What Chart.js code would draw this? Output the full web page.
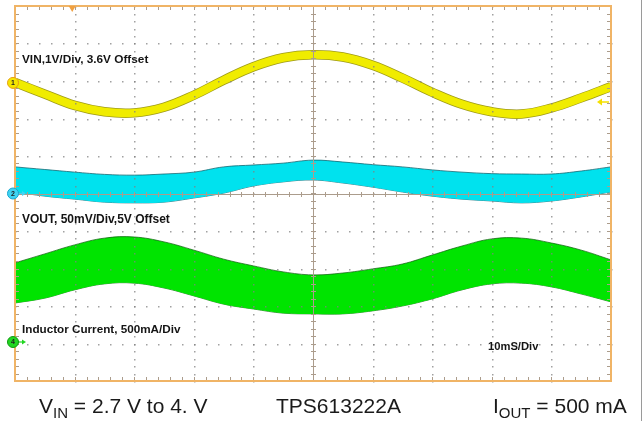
<!DOCTYPE html>
<html>
<head>
<meta charset="utf-8">
<script src="https://cdn.jsdelivr.net/npm/chart.js@4.4.0/dist/chart.umd.min.js"></script>
<style>
    html, body { margin: 0; padding: 0; background: #fff; }
    #wrap { position: relative; width: 644px; height: 421px; overflow: hidden; font-family: Arial, "Liberation Sans", sans-serif; }
    #scope { position: absolute; left: 0; top: 0; }
    .lbl { position: absolute; font-weight: bold; color: #141414; white-space: nowrap; line-height: 1; }
    .cap { position: absolute; top: 395px; font-size: 21px; line-height: 21px; color: #1a1a1a; white-space: nowrap; }
    .cap sub { font-size: 15px; vertical-align: -5px; line-height: 0; }
    #edge { position: absolute; left: 641px; top: 0; width: 1px; height: 421px; background: #9a9a9a; }
</style>
</head>
<body>
<div id="wrap">
    <canvas id="scope" width="644" height="421"></canvas>
    <div class="lbl" style="left:22px; top:54px; font-size:11.8px;">VIN,1V/Div, 3.6V Offset</div>
    <div class="lbl" style="left:22px; top:213px; font-size:12px;">VOUT, 50mV/Div,5V Offset</div>
    <div class="lbl" style="left:22px; top:323px; font-size:11.7px;">Inductor Current, 500mA/Div</div>
    <div class="lbl" style="left:488px; top:341px; font-size:11.2px;">10mS/Div</div>
    <div class="cap" style="left:39px;">V<sub>IN</sub> = 2.7 V to 4. V</div>
    <div class="cap" style="left:276px;">TPS613222A</div>
    <div class="cap" style="left:493px;">I<sub>OUT</sub> = 500 mA</div>
    <div id="edge"></div>
</div>
<script>
// time axis, 10 ms per division
const timeMs = [0, 5, 10, 15, 20, 25, 30, 35, 40, 45, 50, 55, 60, 65, 70, 75, 80, 85, 90, 95, 100];

// screen positions in divisions (0 = bottom edge, 10 = top edge)
const vinDiv = [7.96, 7.65, 7.35, 7.18, 7.15, 7.30, 7.62, 8.02, 8.38, 8.62, 8.70, 8.64, 8.42, 8.08, 7.70, 7.38, 7.18, 7.12, 7.28, 7.55, 7.85];
const voutTop = [5.71, 5.64, 5.57, 5.51, 5.49, 5.52, 5.57, 5.71, 5.76, 5.81, 5.89, 5.84, 5.77, 5.71, 5.63, 5.57, 5.53, 5.52, 5.52, 5.60, 5.71];
const voutBottom = [5.04, 4.93, 4.85, 4.77, 4.75, 4.77, 4.88, 5.01, 5.20, 5.31, 5.36, 5.28, 5.17, 5.04, 4.93, 4.85, 4.80, 4.75, 4.80, 4.91, 5.04];
const ilTop = [3.15, 3.39, 3.63, 3.81, 3.84, 3.71, 3.49, 3.25, 3.07, 2.91, 2.83, 2.88, 2.99, 3.12, 3.36, 3.60, 3.79, 3.81, 3.68, 3.49, 3.23];
const ilBottom = [2.08, 2.21, 2.43, 2.59, 2.61, 2.48, 2.27, 2.05, 1.92, 1.81, 1.79, 1.79, 1.87, 2.00, 2.19, 2.43, 2.59, 2.61, 2.51, 2.32, 2.11];

// channel reference markers and trigger
const refLabels = ['1', '2', '4'];
const refLevels = [7.95, 5.0, 1.04];
const refFill = ['#f4e600', '#3fd4f2', '#22d622'];
const refStroke = ['#e8a010', '#1aa6cf', '#109a10'];
const triggerTime = 9.6;
const triggerLevel = 7.44;

const pts = arr => arr.map((v, i) => ({ x: timeMs[i], y: v }));

const scopeGrid = {
    id: 'scopeGrid',
    afterDatasetsDraw(chart) {
        const { ctx, chartArea: a, scales: { x, y } } = chart;
        ctx.save();

        // dotted graticule
        ctx.fillStyle = 'rgba(130,130,130,0.75)';
        for (let i = 1; i < 10; i++) {
            if (i === 5) continue;
            const px = Math.round(x.getPixelForValue(i * 10));
            for (let v = 0; v <= 10.001; v += 0.2) {
                ctx.fillRect(px, Math.round(y.getPixelForValue(v)), 1.5, 1.5);
            }
            const py = Math.round(y.getPixelForValue(i));
            for (let t = 0; t <= 100.001; t += 2) {
                ctx.fillRect(Math.round(x.getPixelForValue(t)), py, 1.5, 1.5);
            }
        }

        // centre crosshair with minor ticks
        const cx = Math.round(x.getPixelForValue(50)) + 0.5;
        const cy = Math.round(y.getPixelForValue(5)) + 0.5;
        ctx.strokeStyle = '#ab9c8c';
        ctx.lineWidth = 1;
        ctx.beginPath();
        ctx.moveTo(cx, a.top); ctx.lineTo(cx, a.bottom);
        ctx.moveTo(a.left, cy); ctx.lineTo(a.right, cy);
        for (let t = 0; t <= 100.001; t += 2) {
            const px = Math.round(x.getPixelForValue(t)) + 0.5;
            ctx.moveTo(px, cy - 2.5); ctx.lineTo(px, cy + 2.5);
            ctx.moveTo(px, a.top); ctx.lineTo(px, a.top + 4);
            ctx.moveTo(px, a.bottom); ctx.lineTo(px, a.bottom - 4);
        }
        for (let v = 0; v <= 10.001; v += 0.2) {
            const py = Math.round(y.getPixelForValue(v)) + 0.5;
            ctx.moveTo(cx - 2.5, py); ctx.lineTo(cx + 2.5, py);
            ctx.moveTo(a.left, py); ctx.lineTo(a.left + 4, py);
            ctx.moveTo(a.right, py); ctx.lineTo(a.right - 4, py);
        }
        ctx.stroke();

        // frame
        ctx.strokeStyle = '#f0b466';
        ctx.lineWidth = 2;
        ctx.strokeRect(a.left, a.top, a.width, a.height);

        // trigger position (top) and trigger level (right)
        const tx = x.getPixelForValue(triggerTime);
        ctx.fillStyle = '#f0a040';
        ctx.beginPath();
        ctx.moveTo(tx - 3.5, a.top); ctx.lineTo(tx + 3.5, a.top); ctx.lineTo(tx, a.top + 6);
        ctx.closePath(); ctx.fill();

        const ty = y.getPixelForValue(triggerLevel);
        ctx.strokeStyle = '#f4e000';
        ctx.fillStyle = '#f4e000';
        ctx.lineWidth = 1.5;
        ctx.beginPath();
        ctx.moveTo(a.right - 2, ty); ctx.lineTo(a.right - 10, ty); ctx.stroke();
        ctx.beginPath();
        ctx.moveTo(a.right - 14, ty); ctx.lineTo(a.right - 9, ty - 3.5); ctx.lineTo(a.right - 9, ty + 3.5);
        ctx.closePath(); ctx.fill();

        // channel ground markers
        refLevels.forEach((lv, i) => {
            const my = y.getPixelForValue(lv);
            const mx = a.left - 2;
            if (i > 0) {
                ctx.strokeStyle = refFill[i];
                ctx.fillStyle = refFill[i];
                ctx.lineWidth = 1.2;
                ctx.beginPath();
                ctx.moveTo(mx + 4, my); ctx.lineTo(mx + 11, my); ctx.stroke();
                ctx.beginPath();
                ctx.moveTo(mx + 13, my); ctx.lineTo(mx + 9, my - 2.5); ctx.lineTo(mx + 9, my + 2.5);
                ctx.closePath(); ctx.fill();
            }
            ctx.beginPath();
            ctx.arc(mx, my, 5.5, 0, Math.PI * 2);
            ctx.fillStyle = refFill[i];
            ctx.fill();
            ctx.lineWidth = 1;
            ctx.strokeStyle = refStroke[i];
            ctx.stroke();
            ctx.fillStyle = '#222';
            ctx.font = 'bold 7px Arial';
            ctx.textAlign = 'center';
            ctx.textBaseline = 'middle';
            ctx.fillText(refLabels[i], mx, my + 0.5);
        });

        ctx.restore();
    }
};

new Chart(document.getElementById('scope'), {
    type: 'line',
    data: {
        datasets: [
            {
                label: 'VIN',
                data: pts(vinDiv),
                borderColor: '#f0ec00',
                borderWidth: 8,
                tension: 0.4,
                pointRadius: 0,
                fill: false,
                clip: 0
            },
            {
                label: 'VIN edge',
                data: pts(vinDiv),
                borderColor: '#9e9a18',
                borderWidth: 9.5,
                tension: 0.4,
                pointRadius: 0,
                fill: false,
                clip: 0
            },
            {
                label: 'VOUT top',
                data: pts(voutTop),
                borderColor: 'rgba(10,95,105,0.75)',
                borderWidth: 1,
                backgroundColor: '#00e2ee',
                tension: 0.4,
                pointRadius: 0,
                fill: '+1',
                clip: 0
            },
            {
                label: 'VOUT bottom',
                data: pts(voutBottom),
                borderColor: 'rgba(10,95,105,0.75)',
                borderWidth: 1,
                tension: 0.4,
                pointRadius: 0,
                fill: false,
                clip: 0
            },
            {
                label: 'IL top',
                data: pts(ilTop),
                borderColor: 'rgba(15,100,15,0.75)',
                borderWidth: 1,
                backgroundColor: '#00e400',
                tension: 0.4,
                pointRadius: 0,
                fill: '+1',
                clip: 0
            },
            {
                label: 'IL bottom',
                data: pts(ilBottom),
                borderColor: 'rgba(15,100,15,0.75)',
                borderWidth: 1,
                tension: 0.4,
                pointRadius: 0,
                fill: false,
                clip: 0
            }
        ]
    },
    options: {
        responsive: false,
        animation: false,
        devicePixelRatio: 1,
        events: [],
        layout: { padding: { left: 15, top: 6, right: 33, bottom: 40 } },
        plugins: { legend: { display: false }, tooltip: { enabled: false } },
        scales: {
            x: { type: 'linear', min: 0, max: 100, display: false },
            y: { min: 0, max: 10, display: false }
        }
    },
    plugins: [scopeGrid]
});
</script>
</body>
</html>
